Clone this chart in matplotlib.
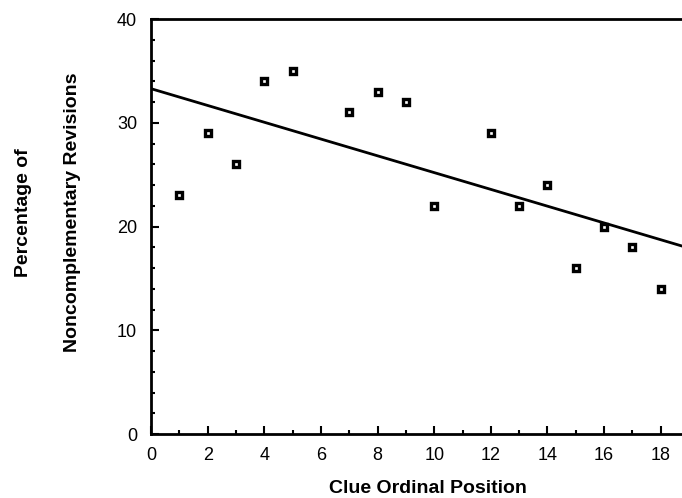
import numpy as np
import matplotlib
matplotlib.use("Agg")
import matplotlib.pyplot as plt
from matplotlib.ticker import MultipleLocator

plt.rcParams['font.family'] = ['Liberation Sans', 'DejaVu Sans']

# Clue ordinal position vs percentage of noncomplementary revisions
positions = [1, 2, 3, 4, 5, 7, 8, 9, 10, 12, 13, 14, 15, 16, 17, 18]
percentages = [23, 29, 26, 34, 35, 31, 33, 32, 22, 29, 22, 24, 16, 20, 18, 14]
x_ticks = [0, 2, 4, 6, 8, 10, 12, 14, 16, 18]
y_ticks = [0, 10, 20, 30, 40]

fig = plt.figure(figsize=(6.82, 4.98), dpi=100)
ax = fig.add_axes([0.2214, 0.1285, 0.7786, 0.8333])

# least squares trend line
slope, intercept = np.polyfit(positions, percentages, 1)
xs = np.array([0, 18.75])
ax.plot(xs, intercept + slope * xs, color='black', lw=2)

ax.plot(positions, percentages, ls='none', marker='s', ms=4.8,
        mfc='white', mec='black', mew=2.4, clip_on=False)

ax.set_xlim(0, 18.75)
ax.set_ylim(0, 40)
ax.set_xticks(x_ticks)
ax.set_yticks(y_ticks)
ax.xaxis.set_minor_locator(MultipleLocator(1))
ax.yaxis.set_minor_locator(MultipleLocator(2))
ax.tick_params(which='major', direction='in', length=6, width=1.5,
               labelsize=13)
ax.tick_params(axis='y', which='major', pad=10)
ax.tick_params(axis='x', which='major', pad=9)
ax.tick_params(which='minor', direction='in', length=3, width=1.5)
ax.tick_params(top=False, right=False)

ax.spines['right'].set_visible(False)
for s in ['left', 'bottom', 'top']:
    ax.spines[s].set_linewidth(2)

fig.text(0.628, 0.02, 'Clue Ordinal Position', ha='center', va='center',
         fontsize=14, fontweight='bold')
fig.text(0.035, 0.574, 'Percentage of', rotation=90, ha='center',
         va='center', fontsize=14, fontweight='bold')
fig.text(0.106, 0.574, 'Noncomplementary Revisions', rotation=90,
         ha='center', va='center', fontsize=14, fontweight='bold')

fig.savefig('out.png', dpi=100)
